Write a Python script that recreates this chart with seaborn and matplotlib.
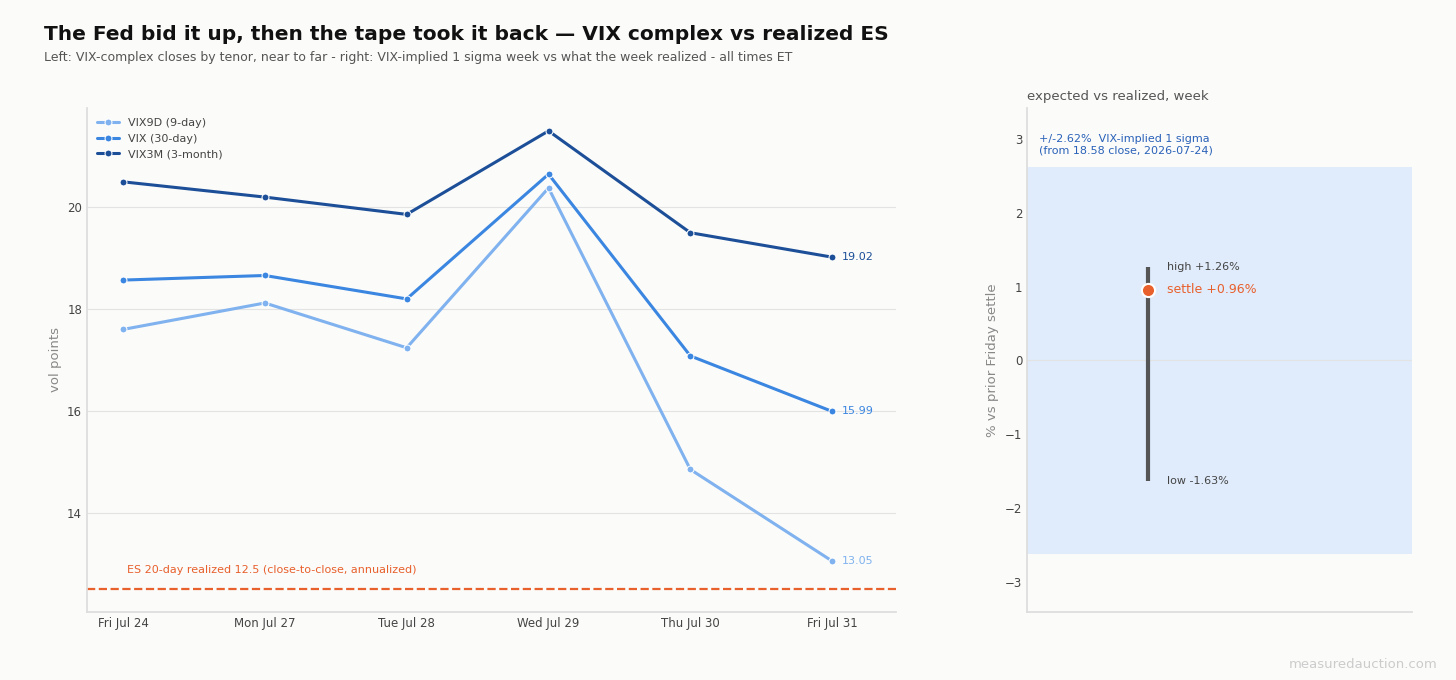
import matplotlib
matplotlib.use("Agg")
import matplotlib.pyplot as plt
import seaborn as sns
import pandas as pd

days = ["Fri Jul 24", "Mon Jul 27", "Tue Jul 28", "Wed Jul 29", "Thu Jul 30", "Fri Jul 31"]
vix9d = [17.60, 18.12, 17.24, 20.38, 14.85, 13.05]
vix = [18.57, 18.66, 18.20, 20.65, 17.08, 15.99]
vix3m = [20.50, 20.20, 19.86, 21.50, 19.50, 19.02]
es_realized = 12.5
sigma = 2.62
wk_high = 1.26
wk_low = -1.63
wk_settle = 0.96

sns.set_theme(style="white")
plt.rcParams['font.family'] = ['DejaVu Sans']
bg = "#fbfbfa"
fig = plt.figure(figsize=(14.56, 6.8), dpi=100, facecolor=bg)
ax = fig.add_axes([87/1456, 68/680, 809/1456, 504/680], facecolor=bg)
ax2 = fig.add_axes([1027/1456, 68/680, 385/1456, 504/680], facecolor=bg)

names = ["VIX9D (9-day)", "VIX (30-day)", "VIX3M (3-month)"]
cols = ["#7fb2ee", "#3a86e0", "#1c4f98"]
df = pd.DataFrame({"day": days * 3, "x": list(range(6)) * 3,
                   "val": vix9d + vix + vix3m,
                   "series": sum([[n] * 6 for n in names], [])})
sns.lineplot(data=df, x="x", y="val", hue="series", palette=dict(zip(names, cols)),
             marker="o", markersize=5, markeredgecolor="white", linewidth=2.2, ax=ax)
for s, c in zip([vix9d, vix, vix3m], cols):
    ax.text(5 + 0.07, s[-1], f"{s[-1]:.2f}", color=c, va="center", fontsize=8)
ax.axhline(es_realized, color="#e8602c", ls="--", lw=1.6)
ax.text(0.03, es_realized + 0.27, "ES 20-day realized 12.5 (close-to-close, annualized)",
        color="#e8602c", fontsize=8, va="bottom")
ax.set_xlim(-0.254, 5.45)
ax.set_ylim(12.05, 21.95)
ax.set_yticks([14, 16, 18, 20])
ax.set_xticks(range(6))
ax.set_xticklabels(days)
ax.set_xlabel("")
ax.set_ylabel("vol points", color="#888888", fontsize=9.5)
ax.grid(axis="y", color="#e3e3e3", lw=0.8)
ax.tick_params(colors="#444444", labelsize=8.5, length=0)
for sp in ["top", "right"]:
    ax.spines[sp].set_visible(False)
for sp in ["left", "bottom"]:
    ax.spines[sp].set_color("#dddddd")
leg = ax.legend(loc="upper left", frameon=False, fontsize=8, title=None)
for t in leg.get_texts():
    t.set_color("#444444")

ax2.axhspan(-sigma, sigma, color="#e0ecfb", lw=0)
ax2.axhline(0, color="#e3e3e3", lw=0.8)
ax2.vlines(0.314, wk_low, wk_high, color="#555555", lw=3)
sns.scatterplot(x=[0.314], y=[wk_settle], s=90, color="#e8602c", edgecolor="white",
                linewidth=1.5, ax=ax2, zorder=5)
ax2.text(0.363, wk_high, f"high +{wk_high:.2f}%", fontsize=8, color="#444444", va="center")
ax2.text(0.363, wk_low, f"low {wk_low:.2f}%", fontsize=8, color="#444444", va="center")
ax2.text(0.363, wk_settle, f"settle +{wk_settle:.2f}%", fontsize=9, color="#e8602c", va="center")
ax2.text(0.03, 2.92, f"+/-{sigma:.2f}%  VIX-implied 1 sigma\n(from 18.58 close, 2026-07-24)",
         fontsize=8, color="#2a62b8", va="center")
ax2.set_xlim(0, 1)
ax2.set_ylim(-3.41, 3.42)
ax2.set_xticks([])
ax2.set_yticks([-3, -2, -1, 0, 1, 2, 3])
ax2.set_yticklabels(["\u22123", "\u22122", "\u22121", "0", "1", "2", "3"])
ax2.set_ylabel("% vs prior Friday settle", color="#888888", fontsize=9.5)
ax2.set_title("expected vs realized, week", loc="left", fontsize=9.5, color="#555555")
ax2.tick_params(colors="#444444", labelsize=8.5, length=0)
for sp in ["top", "right"]:
    ax2.spines[sp].set_visible(False)
for sp in ["left", "bottom"]:
    ax2.spines[sp].set_color("#dddddd")

fig.text(44/1456, 1 - 34/680, "The Fed bid it up, then the tape took it back \u2014 VIX complex vs realized ES",
         fontsize=14.5, fontweight="bold", color="#111111", va="center")
fig.text(44/1456, 1 - 58/680, "Left: VIX-complex closes by tenor, near to far - right: VIX-implied 1 sigma week vs what the week realized - all times ET",
         fontsize=9, color="#555555", va="center")
fig.text(1438/1456, 1 - 665/680, "measuredauction.com", fontsize=9.5, color="#cccccc", ha="right", va="center")
fig.savefig("out.png", dpi=100, facecolor=bg)
